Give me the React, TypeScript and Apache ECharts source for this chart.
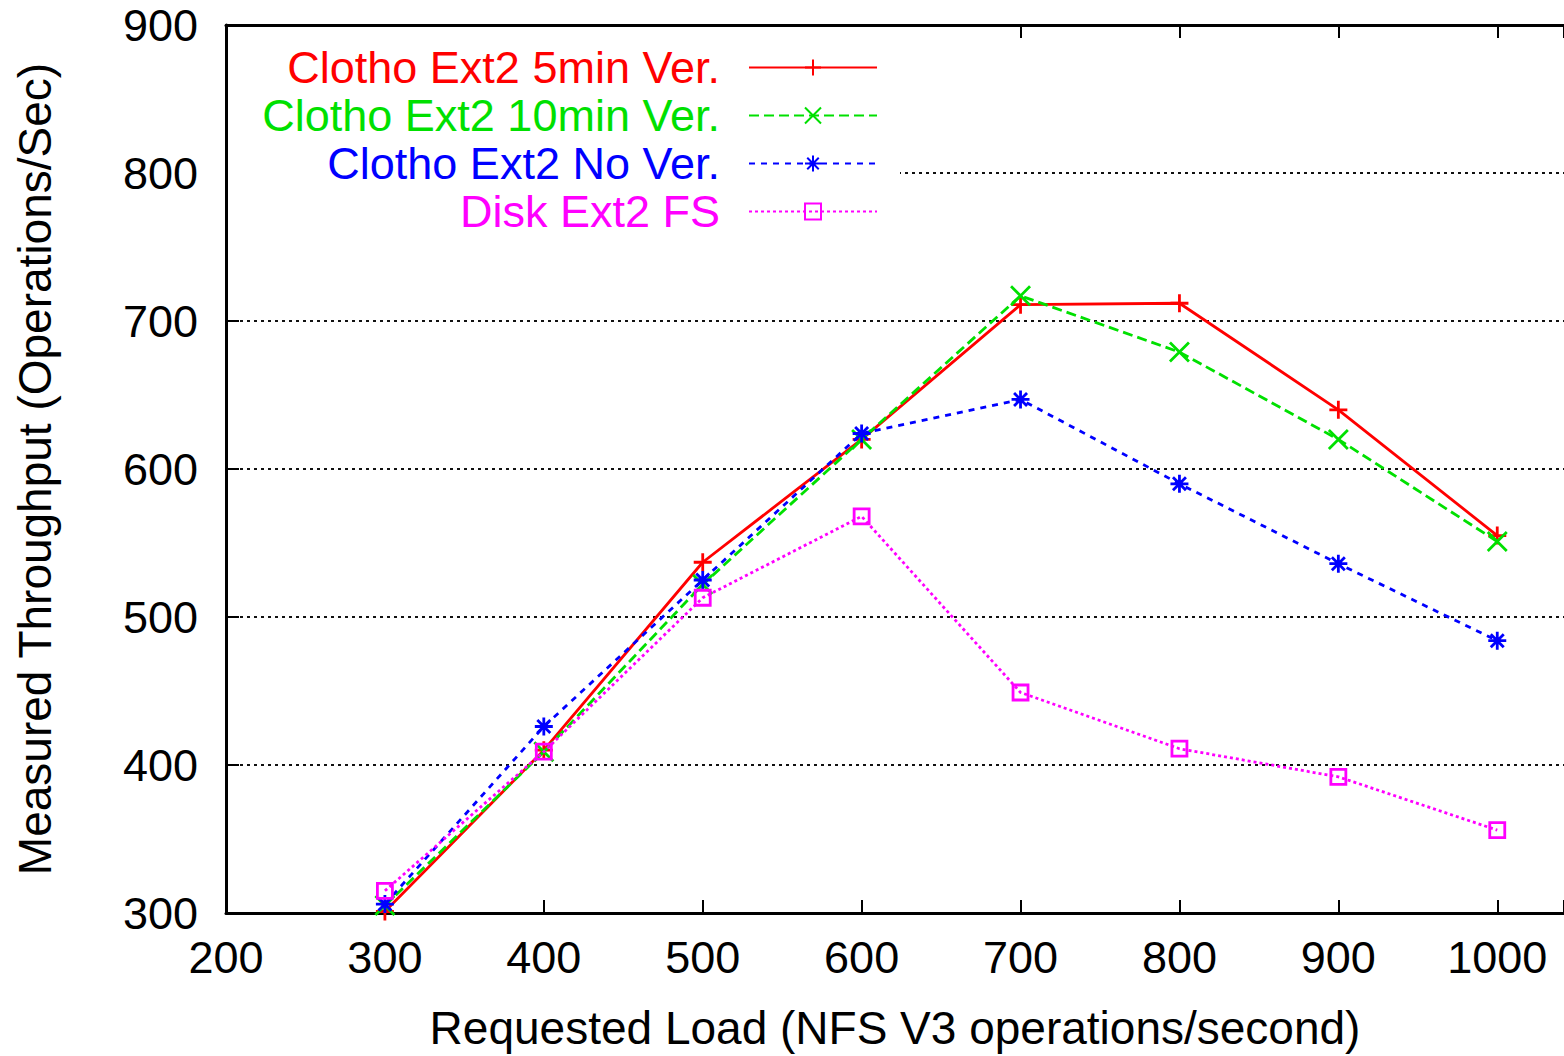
import React, { useEffect, useRef } from "react";
import * as echarts from "echarts";

const loads = [300, 400, 500, 600, 700, 800, 900, 1000];
const ver5min = [301, 410, 537, 620, 711, 712, 640, 555];
const ver10min = [305, 409, 522, 620, 717, 679, 620, 551];
const noVer = [306, 426, 525, 624, 647, 590, 536, 484];
const diskFs = [315, 409, 513, 568, 449, 411, 392, 356];

const seriesNames = [
  "Clotho Ext2 5min Ver.",
  "Clotho Ext2 10min Ver.",
  "Clotho Ext2 No Ver.",
  "Disk Ext2 FS",
];
const seriesColors = ["#ff0000", "#00e000", "#0000ff", "#ff00ff"];

const xLabel = "Requested Load (NFS V3 operations/second)";
const yLabel = "Measured Throughput (Operations/Sec)";

const FONT = "'Liberation Sans', Arial, sans-serif";

const PLUS = "path://M0,-1L0,1M-1,0L1,0";
const CROSS = "path://M-1,-1L1,1M-1,1L1,-1";
const STAR = "path://M0,-1L0,1M-1,0L1,0M-0.72,-0.72L0.72,0.72M-0.72,0.72L0.72,-0.72";
const SQUARE = "path://M-1,-1L1,-1L1,1L-1,1Z";

function pairs(vals: number[]) {
  return loads.map((x, i) => [x, vals[i]]);
}

export default function App() {
  const ref = useRef<HTMLDivElement>(null);
  useEffect(() => {
    document.body.style.margin = "0";
    if (!ref.current) return;
    const chart = echarts.init(ref.current, null, { renderer: "svg" });
    const datasets = [ver5min, ver10min, noVer, diskFs];
    const symbols = [PLUS, CROSS, STAR, SQUARE];
    const sizes = [18, 19, 18, 15];
    const dashes: any[] = ["solid", [10, 5], [6, 6], [3, 3]];
    const legendCenters = [66, 114, 162, 210];

    const series = datasets.map((d, i) => ({
      type: "line",
      name: seriesNames[i],
      data: pairs(d),
      symbol: symbols[i],
      symbolSize: sizes[i],
      showAllSymbol: true,
      z: 2 + i,
      lineStyle: { color: seriesColors[i], width: 2.8, type: dashes[i] },
      itemStyle: {
        color: i === 3 ? "rgba(0,0,0,0)" : seriesColors[i],
        borderColor: seriesColors[i],
        borderWidth: 2.8,
      },
      emphasis: { disabled: true },
    }));

    const legends = seriesNames.map((n, i) => ({
      data: [n],
      orient: "horizontal",
      align: "right",
      right: 1564 - 878,
      top: legendCenters[i] - 21,
      padding: 0,
      itemWidth: 128,
      itemHeight: 20,
      selectedMode: false,
      textStyle: {
        color: seriesColors[i],
        fontFamily: FONT,
        fontSize: 45,
        lineHeight: 42,
        padding: [0, 24, 0, 0],
      },
    }));

    chart.setOption({
      animation: false,
      backgroundColor: "#ffffff",
      grid: {
        left: 226,
        top: 25,
        right: 0,
        bottom: 143,
        containLabel: false,
        outerBoundsMode: "none",
      },
      legend: legends,
      graphic: [
        {
          type: "rect",
          z: 1,
          shape: { x: 228, y: 27, width: 672, height: 210 },
          style: { fill: "#ffffff" },
          silent: true,
        },
      ],
      xAxis: [
        {
          type: "value",
          position: "bottom",
          min: 200,
          max: 1042,
          interval: 100,
          name: xLabel,
          nameLocation: "middle",
          nameGap: 92,
          nameTextStyle: { fontFamily: FONT, fontSize: 46, color: "#000" },
          axisLine: { show: true, onZero: false, lineStyle: { color: "#000", width: 3 } },
          axisTick: { show: true, inside: true, length: 13, lineStyle: { color: "#000", width: 2 } },
          axisLabel: {
            fontFamily: FONT,
            fontSize: 45,
            color: "#000",
            margin: 22,
            formatter: (v: number) => (v % 100 === 0 && v <= 1000 ? String(v) : ""),
          },
          splitLine: { show: false },
        },
        {
          type: "value",
          position: "top",
          min: 200,
          max: 1042,
          interval: 100,
          axisLine: { show: true, onZero: false, lineStyle: { color: "#000", width: 3 } },
          axisTick: { show: true, inside: true, length: 13, lineStyle: { color: "#000", width: 2 } },
          axisLabel: { show: false },
          splitLine: { show: false },
        },
      ],
      yAxis: {
        type: "value",
        min: 300,
        max: 900,
        interval: 100,
        name: yLabel,
        nameLocation: "middle",
        nameGap: 168,
        nameTextStyle: { fontFamily: FONT, fontSize: 46, color: "#000" },
        axisLine: { show: true, onZero: false, lineStyle: { color: "#000", width: 3 } },
        axisTick: { show: true, inside: true, length: 13, lineStyle: { color: "#000", width: 2 } },
        axisLabel: { fontFamily: FONT, fontSize: 45, color: "#000", margin: 28 },
        splitLine: {
          show: true,
          lineStyle: { color: "#111", width: 1.8, type: [3, 4] },
        },
      },
      series,
    });
    return () => chart.dispose();
  }, []);
  return <div ref={ref} style={{ width: 1564, height: 1056 }} />;
}
